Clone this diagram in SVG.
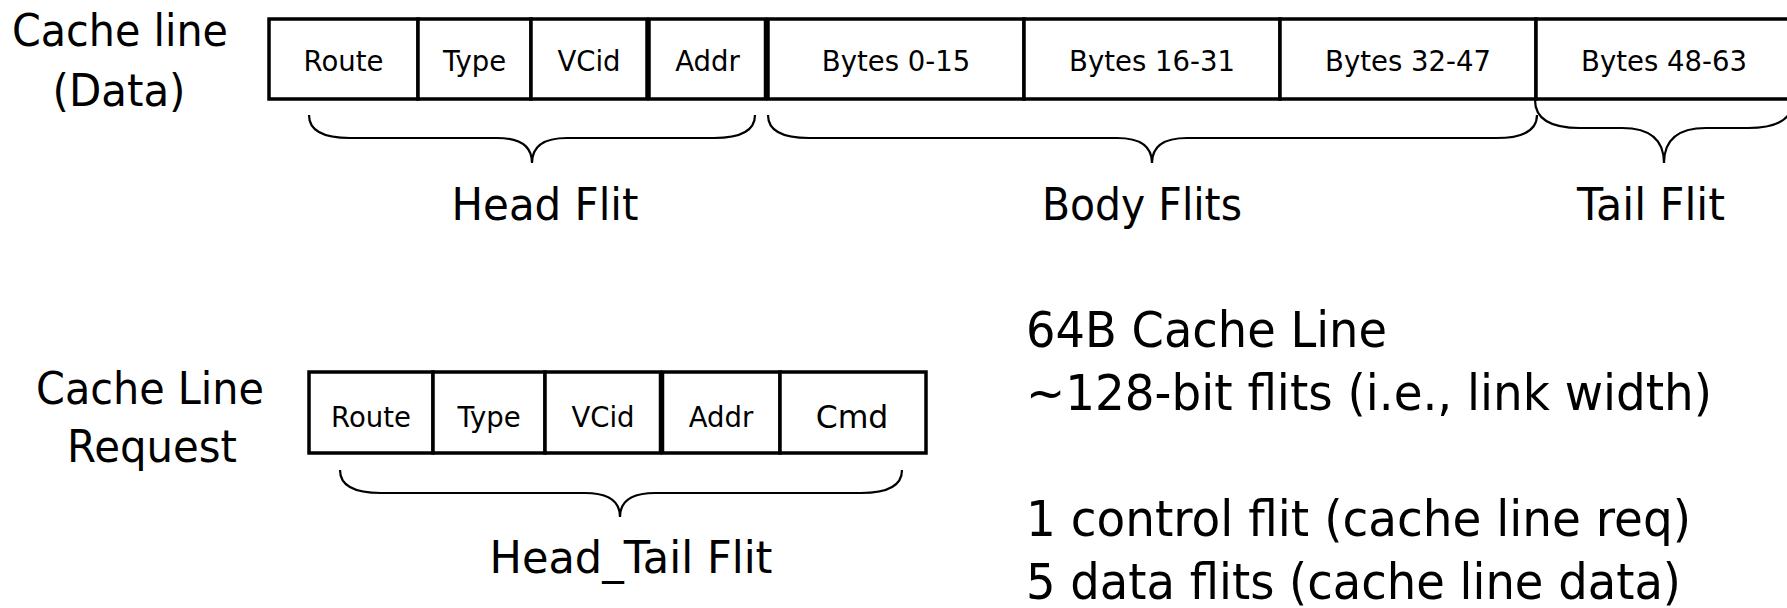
<svg xmlns="http://www.w3.org/2000/svg" width="1787" height="608" viewBox="0 0 1787 608">
  <style>
    text { font-family: "DejaVu Sans", Verdana, sans-serif; fill: #000; }
    .big { font-size: 45px; text-anchor: middle; }
    .cell { font-size: 27.5px; text-anchor: middle; }
    .cmd { font-size: 31.5px; text-anchor: middle; }
    .note { font-size: 50px; text-anchor: start; }
    .box { fill: #fff; stroke: #000; stroke-width: 3.5; }
    .brace { fill: none; stroke: #000; stroke-width: 2.2; }
  </style>
  <rect x="0" y="0" width="1787" height="608" fill="#fff"/>

  <!-- Row labels -->
  <g id="label-data">
    <text class="big" x="120" y="46" textLength="216" lengthAdjust="spacingAndGlyphs">Cache line</text>
    <text class="big" x="119" y="106" textLength="133" lengthAdjust="spacingAndGlyphs">(Data)</text>
  </g>
  <g id="label-request">
    <text class="big" x="150" y="404" textLength="228" lengthAdjust="spacingAndGlyphs">Cache Line</text>
    <text class="big" x="152" y="462" textLength="170" lengthAdjust="spacingAndGlyphs">Request</text>
  </g>

  <!-- Cache line (data) packet -->
  <g id="data-route"><rect class="box" x="269" y="19" width="149" height="80"/><text class="cell" x="343.5" y="71">Route</text></g>
  <g id="data-type"><rect class="box" x="418" y="19" width="113" height="80"/><text class="cell" x="474.5" y="71">Type</text></g>
  <g id="data-vcid"><rect class="box" x="531" y="19" width="116" height="80"/><text class="cell" x="589" y="71">VCid</text></g>
  <g id="data-addr"><rect class="box" x="649" y="19" width="116.5" height="80"/><text class="cell" x="707.5" y="71">Addr</text></g>
  <g id="data-b0"><rect class="box" x="768" y="19" width="256" height="80"/><text class="cell" x="896" y="71">Bytes 0-15</text></g>
  <g id="data-b1"><rect class="box" x="1024" y="19" width="256" height="80"/><text class="cell" x="1152" y="71">Bytes 16-31</text></g>
  <g id="data-b2"><rect class="box" x="1280" y="19" width="256" height="80"/><text class="cell" x="1408" y="71">Bytes 32-47</text></g>
  <g id="data-b3"><rect class="box" x="1536" y="19" width="256" height="80"/><text class="cell" x="1664" y="71">Bytes 48-63</text></g>

  <!-- Cache line request packet -->
  <g id="req-route"><rect class="box" x="309" y="372" width="124" height="81"/><text class="cell" x="371" y="427">Route</text></g>
  <g id="req-type"><rect class="box" x="433" y="372" width="112" height="81"/><text class="cell" x="489" y="427">Type</text></g>
  <g id="req-vcid"><rect class="box" x="545" y="372" width="115.5" height="81"/><text class="cell" x="603" y="427">VCid</text></g>
  <g id="req-addr"><rect class="box" x="662.5" y="372" width="117.5" height="81"/><text class="cell" x="721" y="427">Addr</text></g>
  <g id="req-cmd"><rect class="box" x="780" y="372" width="146" height="81"/><text class="cmd" x="852" y="428">Cmd</text></g>

  <!-- Braces -->
  <g id="connectors">
    <path class="brace" d="M309,115 Q309,138 350,138 L497,138 Q532,138 532,163 Q532,138 567,138 L714,138 Q755,138 755,115"/>
    <path class="brace" d="M768,115 Q768,138 809,138 L1117,138 Q1152,138 1152,163 Q1152,138 1187,138 L1496,138 Q1537,138 1537,115"/>
    <path class="brace" d="M1535,100 Q1535,128 1580,128 L1622,128 Q1664,128 1664,163 Q1664,128 1706,128 L1748,128 Q1793,128 1793,100"/>
    <path class="brace" d="M340,470 Q340,493 381,493 L585,493 Q620,493 620,517 Q620,493 655,493 L861,493 Q902,493 902,470"/>
  </g>

  <!-- Brace labels -->
  <g id="label-head"><text class="big" x="545" y="220" textLength="187" lengthAdjust="spacingAndGlyphs">Head Flit</text></g>
  <g id="label-body"><text class="big" x="1142" y="220" textLength="200" lengthAdjust="spacingAndGlyphs">Body Flits</text></g>
  <g id="label-tail"><text class="big" x="1651" y="220" textLength="148" lengthAdjust="spacingAndGlyphs">Tail Flit</text></g>
  <g id="label-headtail"><text class="big" x="631" y="573" textLength="283" lengthAdjust="spacingAndGlyphs">Head_Tail Flit</text></g>

  <!-- Notes -->
  <g id="notes">
    <text class="note" x="1026" y="347" textLength="361" lengthAdjust="spacingAndGlyphs">64B Cache Line</text>
    <text class="note" x="1026" y="410" textLength="686" lengthAdjust="spacingAndGlyphs">~128-bit flits (i.e., link width)</text>
    <text class="note" x="1026" y="536" textLength="665" lengthAdjust="spacingAndGlyphs">1 control flit (cache line req)</text>
    <text class="note" x="1026" y="599" textLength="655" lengthAdjust="spacingAndGlyphs">5 data flits (cache line data)</text>
  </g>
</svg>
